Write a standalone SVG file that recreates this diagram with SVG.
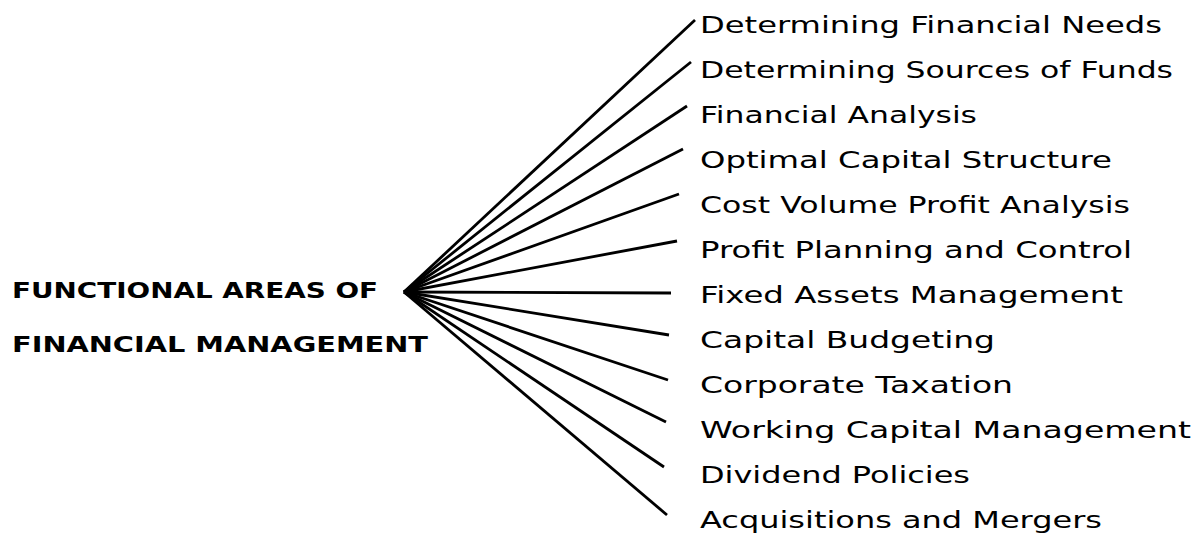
<svg xmlns="http://www.w3.org/2000/svg" width="1202" height="535" viewBox="0 0 1202 535">
<style>
.bg{fill:#ffffff}
.title{font-family:"DejaVu Sans","Liberation Sans",sans-serif;font-weight:bold;font-size:22px;fill:#000}
.lbl{font-family:"DejaVu Sans","Liberation Sans",sans-serif;font-size:23px;fill:#000}
.conn line{stroke:#000;stroke-width:2.8;stroke-linecap:butt}
</style>
<rect class="bg" x="0" y="0" width="1202" height="535"/>
<g id="root">
<text class="title" x="12" y="298" textLength="366" lengthAdjust="spacingAndGlyphs">FUNCTIONAL AREAS OF</text>
<text class="title" x="12" y="352" textLength="416" lengthAdjust="spacingAndGlyphs">FINANCIAL MANAGEMENT</text>
</g>
<g id="connectors" class="conn">
<line x1="404" y1="292" x2="695" y2="20"/>
<line x1="404" y1="292" x2="691" y2="62"/>
<line x1="404" y1="292" x2="687" y2="106"/>
<line x1="404" y1="292" x2="683" y2="149"/>
<line x1="404" y1="292" x2="679" y2="194"/>
<line x1="404" y1="292" x2="677" y2="241"/>
<line x1="404" y1="292" x2="671" y2="293"/>
<line x1="404" y1="292" x2="669" y2="335"/>
<line x1="404" y1="292" x2="668" y2="380"/>
<line x1="404" y1="292" x2="666" y2="422"/>
<line x1="404" y1="292" x2="664" y2="467"/>
<line x1="404" y1="292" x2="667" y2="515"/>
</g>
<g id="n1"><text class="lbl" x="700" y="33" textLength="462" lengthAdjust="spacingAndGlyphs">Determining Financial Needs</text></g>
<g id="n2"><text class="lbl" x="700" y="78" textLength="473" lengthAdjust="spacingAndGlyphs">Determining Sources of Funds</text></g>
<g id="n3"><text class="lbl" x="700" y="123" textLength="277" lengthAdjust="spacingAndGlyphs">Financial Analysis</text></g>
<g id="n4"><text class="lbl" x="700" y="168" textLength="412" lengthAdjust="spacingAndGlyphs">Optimal Capital Structure</text></g>
<g id="n5"><text class="lbl" x="700" y="213" textLength="430" lengthAdjust="spacingAndGlyphs">Cost Volume Profit Analysis</text></g>
<g id="n6"><text class="lbl" x="700" y="258" textLength="432" lengthAdjust="spacingAndGlyphs">Profit Planning and Control</text></g>
<g id="n7"><text class="lbl" x="700" y="303" textLength="423" lengthAdjust="spacingAndGlyphs">Fixed Assets Management</text></g>
<g id="n8"><text class="lbl" x="700" y="348" textLength="295" lengthAdjust="spacingAndGlyphs">Capital Budgeting</text></g>
<g id="n9"><text class="lbl" x="700" y="393" textLength="313" lengthAdjust="spacingAndGlyphs">Corporate Taxation</text></g>
<g id="n10"><text class="lbl" x="700" y="438" textLength="491" lengthAdjust="spacingAndGlyphs">Working Capital Management</text></g>
<g id="n11"><text class="lbl" x="700" y="483" textLength="270" lengthAdjust="spacingAndGlyphs">Dividend Policies</text></g>
<g id="n12"><text class="lbl" x="700" y="528" textLength="402" lengthAdjust="spacingAndGlyphs">Acquisitions and Mergers</text></g>
</svg>
